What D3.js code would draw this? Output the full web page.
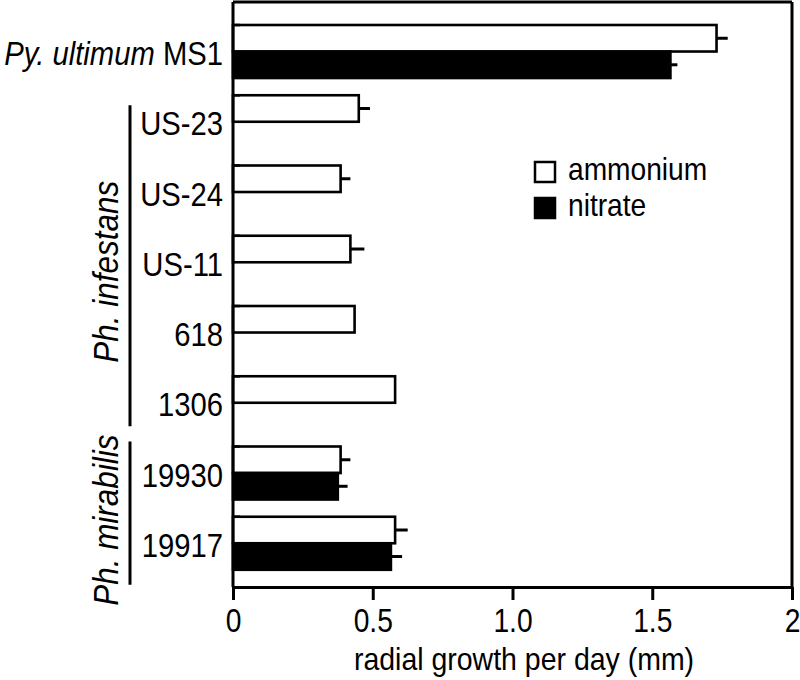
<!DOCTYPE html>
<html>
<head>
<meta charset="utf-8">
<script src="https://cdn.jsdelivr.net/npm/d3@7"></script>
<style>
html,body{margin:0;padding:0;background:#fff;}
svg text{font-family:"Liberation Sans",Arial,Helvetica,sans-serif;fill:#000;}
</style>
</head>
<body>
<svg id="chart" width="800" height="680"></svg>
<script>
// ---- data ----
const categories = ["Py. ultimum MS1","US-23","US-24","US-11","618","1306","19930","19917"];
const ammonium    = [1.73, 0.45, 0.385, 0.42, 0.435, 0.58, 0.385, 0.58];
const ammoniumErr = [0.04, 0.04, 0.035, 0.05, 0, 0, 0.035, 0.045];
const nitrate     = [1.565, null, null, null, null, null, 0.375, 0.565];
const nitrateErr  = [0.025, null, null, null, null, null, 0.035, 0.04];
const xTicks = [0, 0.5, 1, 1.5, 2];
const xTickLabels = ["0", "0.5", "1.0", "1.5", "2"];
const seriesNames = ["ammonium", "nitrate"];
const groups = [
  {name: "Ph. infestans", from: "US-23", to: "1306"},
  {name: "Ph. mirabilis", from: "19930", to: "19917"}
];
const xTitle = "radial growth per day (mm)";

(function () {
// ---- layout ----
const svg = d3.select("#chart");
const pLeft = 233, pRight = 792, pTop = 2, pBottom = 587;
const x = d3.scaleLinear().domain([0, 2]).range([pLeft, pRight]);
const y = d3.scaleBand().domain(categories).range([25, pBottom]).paddingInner(0).paddingOuter(0);
const sub = d3.scaleBand().domain(seriesNames).range([0, y.step() * 0.755]);
// bracket geometry (offsets from the row tops), and label centre shift
const bracketLayout = [
  {startPad: 10, endPad: 50, textShift: 6},
  {startPad: -5, endPad: 68, textShift: 7}
];

const rows = categories.map((c, i) => ({
  cat: c,
  vals: [
    {s: "ammonium", v: ammonium[i], e: ammoniumErr[i]},
    {s: "nitrate", v: nitrate[i], e: nitrateErr[i]}
  ].filter(d => d.v != null)
}));

// bars
const g = svg.append("g");
const rowG = g.selectAll("g.row").data(rows).join("g")
  .attr("transform", d => `translate(0,${y(d.cat)})`);

rowG.selectAll("line.err").data(d => d.vals.filter(v => v.e > 0)).join("line")
  .attr("x1", d => x(d.v)).attr("x2", d => x(d.v + d.e))
  .attr("y1", d => sub(d.s) + sub.bandwidth() / 2)
  .attr("y2", d => sub(d.s) + sub.bandwidth() / 2)
  .attr("stroke", "#000").attr("stroke-width", 3);

rowG.selectAll("rect").data(d => d.vals).join("rect")
  .attr("x", x(0))
  .attr("y", d => sub(d.s))
  .attr("width", d => x(d.v) - x(0))
  .attr("height", sub.bandwidth())
  .attr("fill", d => d.s === "ammonium" ? "#fff" : "#000")
  .attr("stroke", "#000").attr("stroke-width", 2.6);

// frame top & right
svg.append("line").attr("x1", pLeft).attr("x2", pRight).attr("y1", pTop).attr("y2", pTop)
  .attr("stroke", "#000").attr("stroke-width", 3);
svg.append("line").attr("x1", pRight).attr("x2", pRight).attr("y1", pTop).attr("y2", pBottom)
  .attr("stroke", "#000").attr("stroke-width", 3);

// x axis
const xAxis = svg.append("g").attr("transform", `translate(0,${pBottom})`)
  .call(d3.axisBottom(x).tickValues(xTicks).tickFormat((d, i) => xTickLabels[i]).tickSize(13).tickSizeOuter(0));
xAxis.select(".domain").attr("stroke", "#000").attr("stroke-width", 3);
xAxis.selectAll(".tick line").attr("stroke", "#000").attr("stroke-width", 3);
xAxis.selectAll(".tick text").remove();
xAxis.selectAll(".tick").append("text")
  .attr("transform", "translate(0,45) scale(0.83,1)")
  .attr("text-anchor", "middle")
  .style("font-size", "34px")
  .text((d, i) => xTickLabels[i]);

// left axis line
svg.append("line").attr("x1", pLeft).attr("x2", pLeft).attr("y1", pTop).attr("y2", pBottom)
  .attr("stroke", "#000").attr("stroke-width", 3);
svg.selectAll("line.ytick").data(categories).join("line")
  .attr("x1", pLeft).attr("x2", pLeft + 7)
  .attr("y1", d => y(d)).attr("y2", d => y(d))
  .attr("stroke", "#000").attr("stroke-width", 2.5);

// category labels
const lab = svg.selectAll("text.cat").data(categories).join("text")
  .attr("class", "cat")
  .attr("text-anchor", "end")
  .attr("transform", d => `translate(223,${y(d) + 40}) scale(0.86,1)`)
  .style("font-size", "34px");
lab.each(function(d) {
  const t = d3.select(this);
  const m = d.match(/^(Py\. ultimum) (.*)$/);
  if (m) {
    t.append("tspan").style("font-style", "italic").text(m[1] + " ");
    t.append("tspan").text(m[2]);
  } else {
    t.text(d);
  }
});

// group brackets
groups.forEach((gr, i) => {
  const L = bracketLayout[i];
  const y0 = y(gr.from) + L.startPad;
  const y1 = y(gr.to) + L.endPad;
  svg.append("line").attr("x1", 130).attr("x2", 130).attr("y1", y0).attr("y2", y1)
    .attr("stroke", "#000").attr("stroke-width", 3);
  svg.append("text")
    .attr("transform", `translate(118,${(y0 + y1) / 2 + L.textShift}) rotate(-90) scale(0.9,1)`)
    .attr("text-anchor", "middle")
    .style("font-size", "35px").style("font-style", "italic")
    .text(gr.name);
});

// x title
svg.append("text")
  .attr("transform", `translate(524,670) scale(0.89,1)`)
  .attr("text-anchor", "middle")
  .style("font-size", "32px")
  .text(xTitle);

// legend
const leg = svg.append("g").selectAll("g").data(seriesNames).join("g")
  .attr("transform", (d, i) => `translate(535,${162 + i * 36})`);
leg.append("rect").attr("width", 20).attr("height", 20)
  .attr("fill", d => d === "ammonium" ? "#fff" : "#000")
  .attr("stroke", "#000").attr("stroke-width", 2.5);
leg.append("text")
  .attr("transform", "translate(33,18) scale(0.88,1)")
  .style("font-size", "32px")
  .text(d => d);
})();
</script>
</body>
</html>
